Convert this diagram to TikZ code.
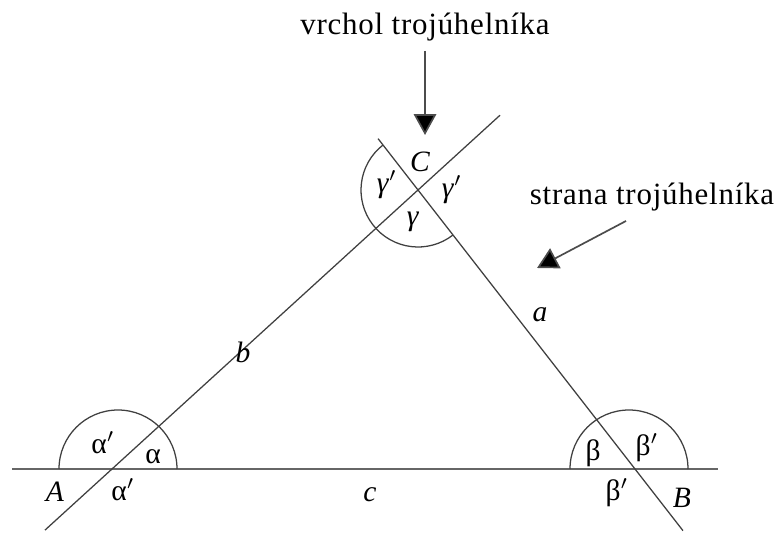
\documentclass[tikz,border=0pt]{standalone}
\usepackage{fontspec}
\setmainfont{Liberation Serif}
\usetikzlibrary{arrows.meta,calc}

\begin{document}
\begin{tikzpicture}[x=0.0125cm,y=0.0125cm,font=\fontsize{10.5}{12}\selectfont,
    ln/.style={line width=0.45pt,black!75},
    base/.style={line width=0.75pt,black!60},
    pointer/.style={semithick,black!70,-{Triangle[length=2.6mm,width=2.8mm,fill=black]}},
    txt/.style={font=\fontsize{11}{13}\selectfont\addfontfeature{LetterSpace=2.5}}]
        \useasboundingbox (0,0) rectangle (778,532);
        \coordinate (A) at (112,63);
        \coordinate (B) at (635,63);
        \coordinate (C) at (418,342);
        \coordinate (cL) at (12,63);
        \coordinate (cR) at (718,63);
        \draw[base] (cL) -- (cR);
        \draw[ln] ($(A)!-0.219!(C)$) -- ($(A)!1.268!(C)$);
        \draw[ln] ($(B)!-0.221!(C)$) -- ($(B)!1.184!(C)$);
        \draw[ln] ($(A)+(65,0)$) arc[start angle=0,end angle=180,radius=59];
        \draw[ln] ($(B)+(53,0)$) arc[start angle=0,end angle=180,radius=59];
        \draw[ln] ($(C)+(127.9:57)$) arc[start angle=127.9,end angle=307.9,radius=57];
        \node (lA) at (55,40) {\textit{A}};
        \node (lB) at (682,34) {\textit{B}};
        \node (lC) at (420,370) {\textit{C}};
        \node (la) at (540,217) {\textit{a}};
        \node (lb) at (243,180) {\textit{b}};
        \node (lc) at (370,37) {\textit{c}};
        \node (al1) at (103,89) {α$'$};
        \node (al) at (153,75) {α};
        \node (al2) at (123,42) {α$'$};
        \node (be) at (593,79) {β};
        \node (be1) at (647,84) {β$'$};
        \node (be2) at (617,39) {β$'$};
        \node (ga1) at (387,347) {\textit{γ}$'$};
        \node (ga2) at (452,342) {\textit{γ}$'$};
        \node (ga) at (413,310) {\textit{γ}};
        \node[txt] (vertex) at (425,505) {vrchol trojúhelníka};
        \node[txt] (side) at (652,335) {strana trojúhelníka};
        \coordinate (vtip) at (425,397);
        \coordinate (stip) at (537,264);
        \draw[pointer] (vertex) -- (vtip);
        \draw[pointer] ($(side.south)+(-26,0)$) -- (stip);
\end{tikzpicture}
\end{document}
